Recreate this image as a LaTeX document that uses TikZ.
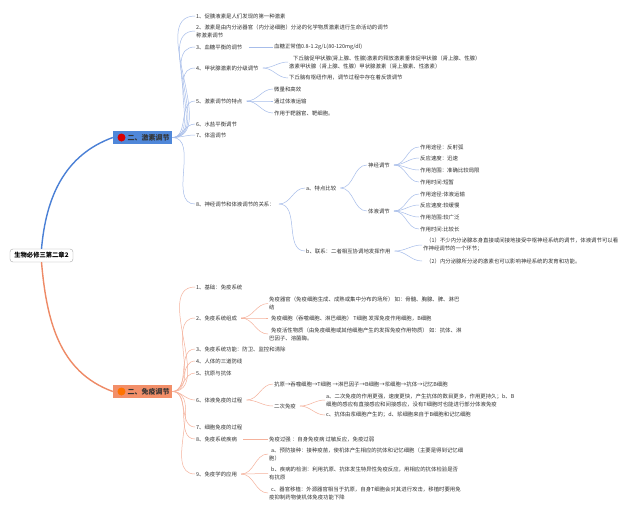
\documentclass[tikz,border=0pt]{standalone}
\usepackage{fontspec}
\setmainfont{Noto Sans CJK SC}
\definecolor{blline}{HTML}{A7BDEA}
\definecolor{orline}{HTML}{F5B29C}
\definecolor{bmain}{HTML}{4F87D9}
\definecolor{omain}{HTML}{F28F69}
\definecolor{bthick}{HTML}{4A80D6}
\definecolor{othick}{HTML}{EE8A66}
\definecolor{txt}{HTML}{333333}
\begin{document}
\begin{tikzpicture}[x=1pt,y=-1pt,
  lf/.style={anchor=west,inner sep=1pt,font=\fontsize{5.4}{8}\selectfont,align=left,text=txt},
  bc/.style={draw=blline,line width=0.5pt},
  oc/.style={draw=orline,line width=0.5pt},
  mainbox/.style={minimum width=59pt,minimum height=13pt,inner sep=0pt,font=\fontsize{7}{8}\selectfont\bfseries,text=txt}]
\useasboundingbox[fill=white] (0,0) rectangle (640,512);

% root
\node[draw=black!35,fill=white,rounded corners=3pt,minimum width=63pt,minimum height=13pt,inner sep=0pt,font=\fontsize{6.3}{7}\selectfont\bfseries] (root) at (41.5,255.5) {生物必修三第二章2};

% main nodes
\node[mainbox,fill=bmain] (hb) at (142.5,137.5) {\hspace{12pt}二、激素调节};
\node[circle,fill=red!85!black,minimum size=8pt,inner sep=0pt] (hbi) at (121.5,137.5) {};
\node[mainbox,fill=omain] (hi) at (142.5,391.5) {\hspace{12pt}二、免疫调节};
\node[circle,fill=orange!90!red,minimum size=8pt,inner sep=0pt] (hii) at (121.5,391.5) {};

\draw[bthick,line width=1.4pt] (root.north) to[out=85,in=200] (hb.west);
\draw[othick,line width=1.4pt] (root.south) to[out=-85,in=160] (hi.west);

% ===== 激素调节 =====
\node[lf] (b1) at (195,16) {1、促胰液素是人们发现的第一种激素};
\node[lf] (b2) at (195,31) {2、激素是由内分泌器官（内分泌细胞）分泌的化学物质激素进行生命活动的调节\\称激素调节};
\node[lf] (b3) at (195,47) {3、血糖平衡的调节};
\node[lf] (b4) at (195,68) {4、甲状腺激素的分级调节};
\node[lf] (b5) at (195,101) {5、激素调节的特点};
\node[lf] (b6) at (195,124) {6、水盐平衡调节};
\node[lf] (b7) at (195,135) {7、体温调节};
\node[lf] (b8) at (195,204) {8、神经调节和体液调节的关系：};
\foreach \n in {b1,b2,b3,b4,b5,b6,b7,b8}
  \draw[bc] (hb.east) to[out=0,in=180] (\n.west);

\node[lf] (b31) at (273,47) {血糖正常值0.8-1.2g/L(80-120mg/dl)};
\draw[bc] (b3.east) ++(5,0) -- (b31.west);

\node[lf] (b41) at (288,62) {\hspace{4pt}下丘脑促甲状腺(肾上腺、性腺)激素的释放激素垂体促甲状腺（肾上腺、性腺）\\激素甲状腺（肾上腺、性腺）甲状腺激素（肾上腺素、性激素）};
\node[lf] (b42) at (288,78) {下丘脑有枢纽作用，调节过程中存在着反馈调节};
\foreach \n in {b41,b42}
  \draw[bc] (b4.east) ++(3,0) to[out=0,in=180] (\n.west);

\node[lf] (b51) at (273,89) {微量和高效};
\node[lf] (b52) at (273,101) {通过体液运输};
\node[lf] (b53) at (273,113) {作用于靶器官、靶细胞。};
\foreach \n in {b51,b52,b53}
  \draw[bc] (b5.east) ++(3,0) to[out=0,in=180] (\n.west);

\node[lf] (b8a) at (305,188) {a、特点比较};
\node[lf] (b8b) at (305,251) {b、联系：二者相互协调地发挥作用};
\foreach \n in {b8a,b8b}
  \draw[bc] (b8.east) ++(3,0) to[out=0,in=180] (\n.west);

\node[lf] (sj) at (367,165) {神经调节};
\node[lf] (ty) at (367,211) {体液调节};
\foreach \n in {sj,ty}
  \draw[bc] (b8a.east) ++(3,0) to[out=0,in=180] (\n.west);

\node[lf] (sj1) at (419,147) {作用途径：反射弧};
\node[lf] (sj2) at (419,158) {反应速度：迅速};
\node[lf] (sj3) at (419,170) {作用范围：准确比较局限};
\node[lf] (sj4) at (419,182) {作用时间:短暂};
\foreach \n in {sj1,sj2,sj3,sj4}
  \draw[bc] (sj.east) ++(3,0) to[out=0,in=180] (\n.west);

\node[lf] (ty1) at (419,194) {作用途径:体液运输};
\node[lf] (ty2) at (419,205) {反应速度:较缓慢};
\node[lf] (ty3) at (419,217) {作用范围:较广泛};
\node[lf] (ty4) at (419,229) {作用时间:比较长};
\foreach \n in {ty1,ty2,ty3,ty4}
  \draw[bc] (ty.east) ++(3,0) to[out=0,in=180] (\n.west);

\node[lf] (lx1) at (422,245) {\hspace{3pt}（1）不少内分泌腺本身直接或间接地接受中枢神经系统的调节，体液调节可以看\\作神经调节的一个环节；};
\node[lf] (lx2) at (422,261) {\hspace{3pt}（2）内分泌腺所分泌的激素也可以影响神经系统的发育和功能。};
\foreach \n in {lx1,lx2}
  \draw[bc] (b8b.east) ++(3,0) to[out=0,in=180] (\n.west);

% ===== 免疫调节 =====
\node[lf] (o1) at (195,287) {1、基础：免疫系统};
\node[lf] (o2) at (195,318) {2、免疫系统组成};
\node[lf] (o3) at (195,349) {3、免疫系统功能：防卫、监控和清除};
\node[lf] (o4) at (195,361) {4、人体的三道防线};
\node[lf] (o5) at (195,373) {5、抗原与抗体};
\node[lf] (o6) at (195,400) {6、体液免疫的过程};
\node[lf] (o7) at (195,427) {7、细胞免疫的过程};
\node[lf] (o8) at (195,439) {8、免疫系统疾病};
\node[lf] (o9) at (195,474) {9、免疫学的应用};
\foreach \n in {o1,o2,o3,o4,o5,o6,o7,o8,o9}
  \draw[oc] (hi.east) to[out=0,in=180] (\n.west);

\node[lf] (o21) at (268,303.5) {免疫器官（免疫细胞生成、成熟或集中分布的场所） 如：骨髓、胸腺、脾、淋巴\\结};
\node[lf] (o22) at (268,318) {\hspace{2pt}免疫细胞（吞噬细胞、淋巴细胞） T细胞 发挥免疫作用细胞，B细胞};
\node[lf] (o23) at (268,334) {\hspace{2pt}免疫活性物质（由免疫细胞或其他细胞产生的发挥免疫作用物质） 如：抗体、淋\\巴因子、溶菌酶。};
\foreach \n in {o21,o22,o23}
  \draw[oc] (o2.east) ++(3,0) to[out=0,in=180] (\n.west);

\node[lf] (o61) at (273,384) {抗原→吞噬细胞→T细胞 →淋巴因子→B细胞→浆细胞→抗体→记忆B细胞};
\node[lf] (o62) at (273,406) {二次免疫};
\foreach \n in {o61,o62}
  \draw[oc] (o6.east) ++(3,0) to[out=0,in=180] (\n.west);

\node[lf] (o621) at (325,400) {a、二次免疫的作用更强，速度更快，产生抗体的数目更多，作用更持久；b、B\\细胞的感应有直接感应和间接感应，没有T细胞时也能进行部分体液免疫};
\node[lf] (o622) at (325,415) {c、抗体由浆细胞产生的；d、浆细胞来自于B细胞和记忆细胞};
\foreach \n in {o621,o622}
  \draw[oc] (o62.east) ++(3,0) to[out=0,in=180] (\n.west);

\node[lf] (o81) at (268,439) {免疫过强 ：自身免疫病 过敏反应，免疫过弱};
\draw[oc] (o8.east) ++(5,0) -- (o81.west);

\node[lf] (o91) at (268,454) {\hspace{2pt}a、预防接种：接种疫苗，使机体产生相应的抗体和记忆细胞（主要是得到记忆细\\胞）};
\node[lf] (o92) at (268,473.5) {\hspace{2pt}b、疾病的检测：利用抗原、抗体发生特异性免疫反应，用相应的抗体检验是否\\有抗原};
\node[lf] (o93) at (268,493) {\hspace{2pt}c、器官移植：外源器官相当于抗原，自身T细胞会对其进行攻击，移植时要用免\\疫抑制药物使机体免疫功能下降};
\foreach \n in {o91,o92,o93}
  \draw[oc] (o9.east) ++(3,0) to[out=0,in=180] (\n.west);
\end{tikzpicture}
\end{document}
